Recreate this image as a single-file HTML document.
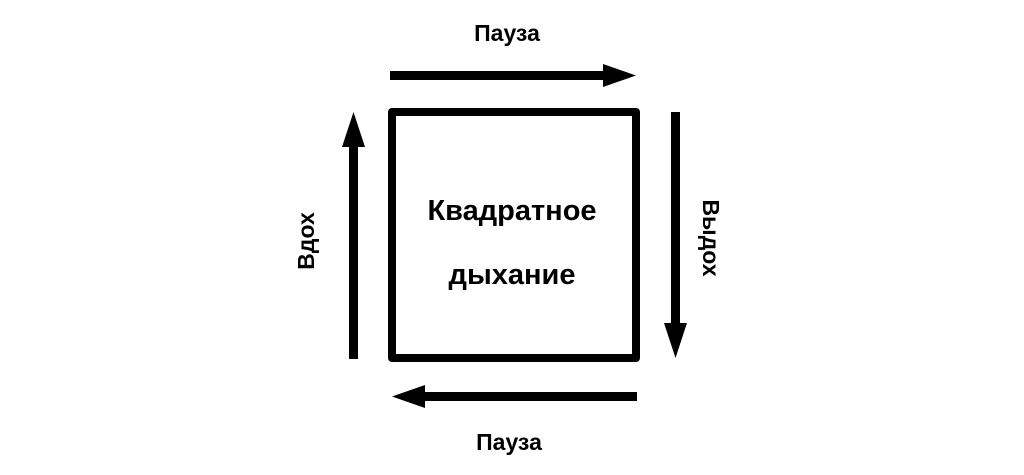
<!DOCTYPE html>
<html><head><meta charset="utf-8"><style>html,body{margin:0;padding:0;background:#fff;}</style></head>
<body>
<svg width="1024" height="475" xmlns="http://www.w3.org/2000/svg" style="display:block">
<g font-family="Liberation Sans, Arial, sans-serif" font-weight="bold" fill="#000" text-anchor="middle">
<text x="507" y="41" font-size="23">Пауза</text>
<text x="509" y="450" font-size="23">Пауза</text>
<text x="512" y="220" font-size="29">Квадратное</text>
<text x="512" y="284" font-size="29">дыхание</text>
<text transform="translate(314,241) rotate(-90)" font-size="23">Вдох</text>
<text transform="translate(703,238) rotate(90)" font-size="23">Выдох</text>
</g>
<rect x="392" y="112" width="244" height="246" fill="none" stroke="#000" stroke-width="8" stroke-linejoin="round"/>
<g fill="#000">
<rect x="390" y="71" width="216" height="9"/>
<polygon points="603,64 636,75.5 603,87"/>
<rect x="349" y="144" width="9" height="215"/>
<polygon points="342,147 353.5,112 365,147"/>
<rect x="671" y="112" width="9" height="214"/>
<polygon points="664,323 675.5,358 687,323"/>
<rect x="422" y="392" width="215" height="9"/>
<polygon points="425,385 392,396.5 425,408"/>
</g>
</svg>
</body></html>
